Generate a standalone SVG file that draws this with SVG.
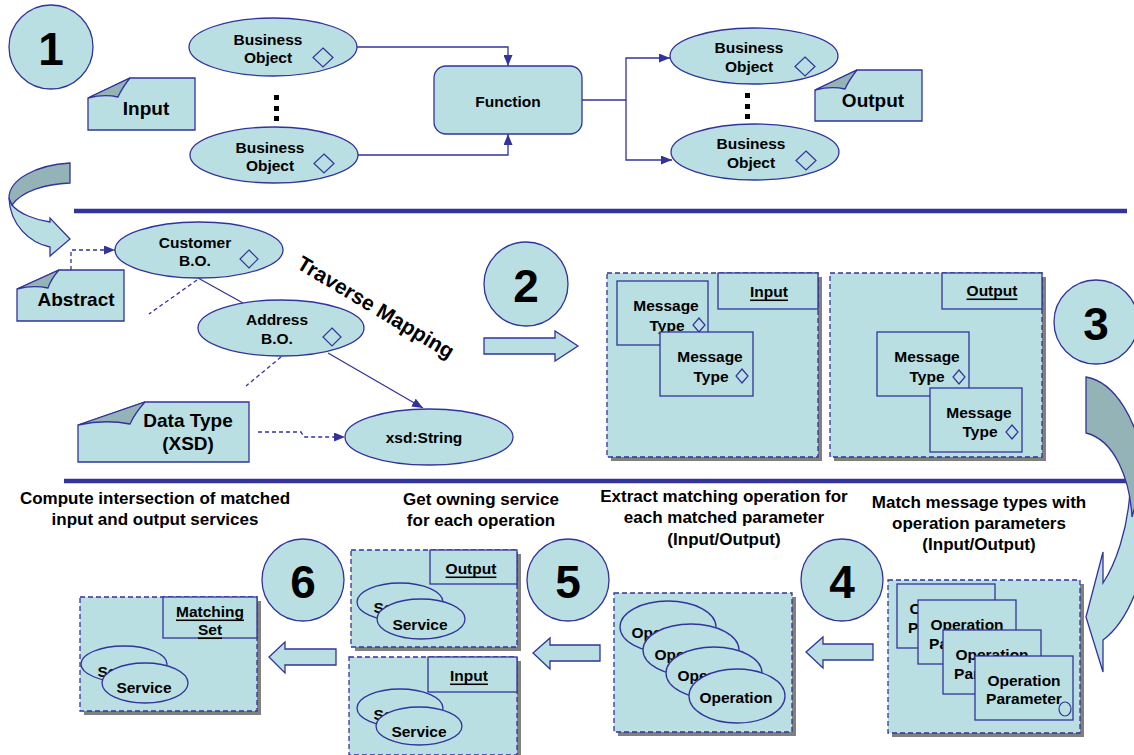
<svg xmlns="http://www.w3.org/2000/svg" width="1134" height="755" viewBox="0 0 1134 755">
<defs>
<style>
.f{fill:#b9dfe2;stroke:#33339c;stroke-width:1.3}
.dk{fill:#93b3b6;stroke:#33339c;stroke-width:1.3}
.d{fill:#b9dfe2;stroke:#33339c;stroke-width:1.3;stroke-dasharray:5,3}
.sh{fill:#808080}
.ln{fill:none;stroke:#33339c;stroke-width:1.3}
.dl{fill:none;stroke:#33339c;stroke-width:1.3;stroke-dasharray:4,3}
.bar{stroke:#33339c;stroke-width:4.5}
.t{font-family:"Liberation Sans",Arial,sans-serif;font-weight:bold;font-size:15.5px;text-anchor:middle;dominant-baseline:central;fill:#000}
.tl{font-size:17px}
.tn{font-size:19px}
.tm{font-size:21px}
.num{font-size:46px}
.u{text-decoration:underline}
.dm{fill:none;stroke:#33339c;stroke-width:1.2}
.dot{fill:#000}
</style>
<marker id="ah" viewBox="0 0 11 9" refX="11" refY="4.5" markerWidth="11" markerHeight="9" markerUnits="userSpaceOnUse" orient="auto">
<path d="M0,0 L11,4.5 L0,9 Z" fill="#33339c"/>
</marker>
</defs>
<rect width="1134" height="755" fill="#fff"/>

<!-- separators -->
<line class="bar" x1="74" y1="211" x2="1127" y2="211"/>
<line class="bar" x1="64" y1="481" x2="1127" y2="481"/>

<!-- connectors -->
<g id="connectors">
<polyline class="ln" points="357,47 508,47 508,66" marker-end="url(#ah)"/>
<polyline class="ln" points="358,155 508,155 508,134" marker-end="url(#ah)"/>
<polyline class="ln" points="582,100 626,100 626,58 670,58" marker-end="url(#ah)"/>
<polyline class="ln" points="626,100 626,160 672,160" marker-end="url(#ah)"/>
<polyline class="dl" points="71,270 71,250 115,250" marker-end="url(#ah)"/>
<line class="ln" x1="198" y1="278" x2="243" y2="303"/>
<line class="dl" x1="197" y1="280" x2="149" y2="314"/>
<line class="ln" x1="328" y1="353" x2="423" y2="408" marker-end="url(#ah)"/>
<line class="dl" x1="281" y1="357" x2="246" y2="386"/>
<polyline class="dl" points="258,432 301,432 304,437 345,437" marker-end="url(#ah)"/>
</g>

<!-- step 1 -->
<g id="step1">
<circle class="f" cx="51" cy="47" r="42"/>
<text class="t num" x="51" y="49">1</text>
</g>
<g id="input-note">
<path class="f" d="M88,98 L130,78 L195,78 L195,130 L88,130 Z"/>
<path class="dk" d="M88,98 L130,78 Q122,88 118,97 Q104,94 88,98 Z"/>
<text class="t tn" x="146" y="108">Input</text>
</g>
<g id="bo-in-1">
<ellipse class="f" cx="273" cy="47" rx="84" ry="29"/>
<text class="t" x="268" y="39">Business</text>
<text class="t" x="268" y="57">Object</text>
<path class="dm" d="M323,48 L333,57.5 L323,67 L313,57.5 Z"/>
</g>
<g id="dots-in">
<rect class="dot" x="274" y="95" width="5" height="5"/>
<rect class="dot" x="274" y="106" width="5" height="5"/>
<rect class="dot" x="274" y="116" width="5" height="5"/>
</g>
<g id="bo-in-2">
<ellipse class="f" cx="274" cy="155" rx="84" ry="28"/>
<text class="t" x="270" y="147">Business</text>
<text class="t" x="270" y="165">Object</text>
<path class="dm" d="M324,154 L334,163.5 L324,173 L314,163.5 Z"/>
</g>
<g id="function">
<rect class="f" x="434" y="66" width="148" height="68" rx="12"/>
<text class="t" x="508" y="101">Function</text>
</g>
<g id="bo-out-1">
<ellipse class="f" cx="754" cy="56" rx="84" ry="28"/>
<text class="t" x="749" y="47">Business</text>
<text class="t" x="749" y="66">Object</text>
<path class="dm" d="M805,57 L815,66.5 L805,76 L795,66.5 Z"/>
</g>
<g id="dots-out">
<rect class="dot" x="745" y="93" width="5" height="5"/>
<rect class="dot" x="745" y="104" width="5" height="5"/>
<rect class="dot" x="745" y="114" width="5" height="5"/>
</g>
<g id="bo-out-2">
<ellipse class="f" cx="755" cy="152" rx="84" ry="28"/>
<text class="t" x="751" y="143">Business</text>
<text class="t" x="751" y="162">Object</text>
<path class="dm" d="M806,151 L816,160.5 L806,170 L796,160.5 Z"/>
</g>
<g id="output-note">
<path class="f" d="M815,90 L857,70 L922,70 L922,121 L815,121 Z"/>
<path class="dk" d="M815,90 L857,70 Q849,80 845,89 Q831,86 815,90 Z"/>
<text class="t tn" x="873" y="100">Output</text>
</g>

<!-- left curved arrow -->
<g id="curve-left">
<path class="f" d="M9,198 C10,225 30,243 50,247 L50,256 L70,239 L50,218 L50,222 C35,220 18,213 12,205 Z"/>
<path class="dk" d="M70,163 C35,165 9,180 9,198 L12,205 C22,191 45,184 70,183 Z"/>
</g>

<!-- step 2 area -->
<g id="customer">
<ellipse class="f" cx="199" cy="250" rx="84" ry="28"/>
<text class="t" x="195" y="242">Customer</text>
<text class="t" x="195" y="260">B.O.</text>
<path class="dm" d="M249,250 L258,259 L249,268 L240,259 Z"/>
</g>
<g id="abstract-note">
<path class="f" d="M17,289 L59,270 L124,270 L124,321 L17,321 Z"/>
<path class="dk" d="M17,289 L59,270 Q51,279 48,288 Q33,285 17,289 Z"/>
<text class="t tn" x="76" y="299">Abstract</text>
</g>
<g id="address">
<ellipse class="f" cx="281" cy="328" rx="83" ry="28"/>
<text class="t" x="277" y="319">Address</text>
<text class="t" x="277" y="338">B.O.</text>
<path class="dm" d="M332,328 L341,337 L332,346 L323,337 Z"/>
</g>
<g id="datatype-note">
<path class="f" d="M78,425 L145,402 L249,402 L249,462 L78,462 Z"/>
<path class="dk" d="M78,425 L145,402 Q135,413 130,424 Q105,419 78,425 Z"/>
<text class="t tn" x="188" y="420">Data Type</text>
<text class="t tn" x="188" y="443">(XSD)</text>
</g>
<g id="xsd-string">
<ellipse class="f" cx="429" cy="437" rx="84" ry="28"/>
<text class="t" x="424" y="437">xsd:String</text>
</g>
<text class="t tm" x="376" y="307" transform="rotate(31 376 307)">Traverse Mapping</text>

<g id="step2">
<circle class="f" cx="526" cy="284" r="42"/>
<text class="t num" x="526" y="286">2</text>
</g>
<polygon id="arrow2" class="f" points="484,338 555,338 555,331 578,346 555,361 555,354 484,354"/>

<g id="input-types">
<rect class="sh" x="611" y="277" width="211" height="184"/>
<rect class="d" x="607" y="273" width="211" height="184"/>
<rect class="f" x="718" y="273" width="100" height="36"/>
<text class="t u" x="769" y="291">Input</text>
<rect class="f" x="617" y="281" width="91" height="64"/>
<text class="t" x="666" y="305">Message</text>
<text class="t" x="667" y="325">Type</text>
<path class="dm" d="M699,318 L705,325 L699,332 L693,325 Z"/>
<rect class="f" x="660" y="332" width="93" height="64"/>
<text class="t" x="710" y="356">Message</text>
<text class="t" x="711" y="376">Type</text>
<path class="dm" d="M742,369 L748,376 L742,383 L736,376 Z"/>
</g>
<g id="output-types">
<rect class="sh" x="834" y="277" width="212" height="184"/>
<rect class="d" x="830" y="273" width="212" height="184"/>
<rect class="f" x="942" y="273" width="100" height="36"/>
<text class="t u" x="992" y="290">Output</text>
<rect class="f" x="877" y="332" width="92" height="64"/>
<text class="t" x="927" y="356">Message</text>
<text class="t" x="927" y="376">Type</text>
<path class="dm" d="M959,370 L965,377 L959,384 L953,377 Z"/>
<rect class="f" x="930" y="388" width="92" height="64"/>
<text class="t" x="979" y="412">Message</text>
<text class="t" x="980" y="431">Type</text>
<path class="dm" d="M1012,425 L1018,432 L1012,439 L1006,432 Z"/>
</g>
<g id="step3">
<circle class="f" cx="1096" cy="322" r="42"/>
<text class="t num" x="1096" y="324">3</text>
</g>

<!-- right curved arrow -->
<g id="curve-right">
<path class="f" d="M1130,490 C1128,530 1115,565 1103,583 L1103,552 L1086,617 L1103,672 L1103,640 C1130,620 1148,570 1150,520 L1150,470 Z"/>
<path class="dk" d="M1086,377 C1115,382 1138,420 1145,470 L1132,517 C1130,480 1115,440 1086,433 Z"/>
</g>

<!-- captions -->
<g id="captions">
<text class="t tl" x="155" y="498">Compute intersection of matched</text>
<text class="t tl" x="155" y="519">input and output services</text>
<text class="t tl" x="481" y="499">Get owning service</text>
<text class="t tl" x="481" y="520">for each operation</text>
<text class="t tl" x="724" y="496">Extract matching operation for</text>
<text class="t tl" x="724" y="517">each matched parameter</text>
<text class="t tl" x="724" y="539">(Input/Output)</text>
<text class="t tl" x="979" y="502">Match message types with</text>
<text class="t tl" x="979" y="523">operation parameters</text>
<text class="t tl" x="979" y="544">(Input/Output)</text>
</g>

<!-- step 4 -->
<g id="params">
<rect class="sh" x="892" y="584" width="192" height="153"/>
<rect class="d" x="888" y="580" width="192" height="153"/>
<rect class="f" x="897" y="584" width="98" height="64"/>
<text class="t" x="946" y="608">Operation</text>
<text class="t" x="946" y="627">Parameter</text>
<rect class="f" x="918" y="600" width="98" height="64"/>
<text class="t" x="967" y="624">Operation</text>
<text class="t" x="967" y="643">Parameter</text>
<rect class="f" x="943" y="630" width="98" height="64"/>
<text class="t" x="992" y="654">Operation</text>
<text class="t" x="992" y="673">Parameter</text>
<rect class="f" x="975" y="656" width="98" height="64"/>
<text class="t" x="1024" y="680">Operation</text>
<text class="t" x="1024" y="698">Parameter</text>
<ellipse class="dm" cx="1065" cy="709" rx="6" ry="7"/>
</g>
<g id="step4">
<circle class="f" cx="842" cy="580" r="41"/>
<text class="t num" x="842" y="582">4</text>
</g>
<polygon id="arrow4" class="f" points="806,652 823,637 823,644 873,644 873,660 823,660 823,668"/>

<g id="operations">
<rect class="sh" x="618" y="597" width="178" height="139"/>
<rect class="d" x="614" y="593" width="178" height="139"/>
<ellipse class="f" cx="668" cy="627" rx="48" ry="26"/>
<text class="t" x="668" y="632">Operation</text>
<ellipse class="f" cx="691" cy="650" rx="48" ry="26"/>
<text class="t" x="691" y="654">Operation</text>
<ellipse class="f" cx="714" cy="673" rx="48" ry="26"/>
<text class="t" x="714" y="675">Operation</text>
<ellipse class="f" cx="737" cy="696" rx="48" ry="27"/>
<text class="t" x="736" y="697">Operation</text>
</g>
<g id="step5">
<circle class="f" cx="568" cy="580" r="41"/>
<text class="t num" x="568" y="582">5</text>
</g>
<polygon id="arrow5" class="f" points="533,653 550,638 550,645 600,645 600,661 550,661 550,669"/>

<g id="output-services">
<rect class="sh" x="355" y="554" width="166" height="97"/>
<rect class="d" x="351" y="550" width="166" height="97"/>
<rect class="f" x="430" y="550" width="87" height="34"/>
<text class="t u" x="471" y="568">Output</text>
<ellipse class="f" cx="400" cy="602" rx="43" ry="19"/>
<text class="t" x="401" y="607">Service</text>
<ellipse class="f" cx="421" cy="619" rx="44" ry="20"/>
<text class="t" x="420" y="624">Service</text>
</g>
<g id="input-services">
<rect class="sh" x="353" y="661" width="168" height="98"/>
<rect class="d" x="349" y="657" width="168" height="98"/>
<rect class="f" x="428" y="657" width="89" height="35"/>
<text class="t u" x="469" y="675">Input</text>
<ellipse class="f" cx="400" cy="708" rx="43" ry="19"/>
<text class="t" x="401" y="714">Service</text>
<ellipse class="f" cx="419" cy="726" rx="43" ry="19"/>
<text class="t" x="419" y="731">Service</text>
</g>
<g id="step6">
<circle class="f" cx="303" cy="580" r="41"/>
<text class="t num" x="303" y="582">6</text>
</g>
<polygon id="arrow6" class="f" points="269,657 285,642 285,649 336,649 336,665 285,665 285,673"/>

<g id="matching-set">
<rect class="sh" x="84" y="601" width="177" height="114"/>
<rect class="d" x="80" y="597" width="177" height="114"/>
<rect class="f" x="163" y="597" width="94" height="41"/>
<text class="t u" x="210" y="611">Matching</text>
<text class="t u" x="210" y="629">Set</text>
<ellipse class="f" cx="124" cy="664" rx="43" ry="18"/>
<text class="t" x="125" y="671">Service</text>
<ellipse class="f" cx="145" cy="683" rx="43" ry="20"/>
<text class="t" x="144" y="687">Service</text>
</g>
</svg>
